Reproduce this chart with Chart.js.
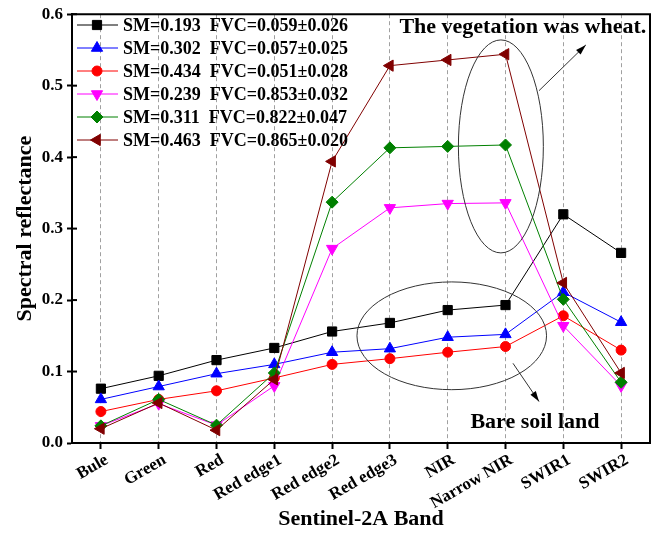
<!DOCTYPE html>
<html>
<head>
<meta charset="utf-8">
<title>Sentinel-2A spectral reflectance</title>
<script src="https://cdn.jsdelivr.net/npm/chart.js@4.4.0/dist/chart.umd.min.js"></script>
<style>
  html, body { margin: 0; padding: 0; background: #fff; }
  #wrap { width: 662px; height: 535px; }
</style>
</head>
<body>
<div id="wrap"><canvas id="chart"></canvas></div>
<script>
// bands on the x axis
var bands = ['Bule', 'Green', 'Red', 'Red edge1', 'Red edge2', 'Red edge3', 'NIR', 'Narrow NIR', 'SWIR1', 'SWIR2'];

// soil moisture and FVC (mean ± sd) of each sample group
var smValues = ['0.193', '0.302', '0.434', '0.239', '0.311', '0.463'];
var fvcMeans = ['0.059', '0.057', '0.051', '0.853', '0.822', '0.865'];
var fvcSds   = ['0.026', '0.025', '0.028', '0.032', '0.047', '0.020'];

// reflectance per band
var refl193 = [0.076, 0.094, 0.116, 0.133, 0.156, 0.168, 0.186, 0.193, 0.320, 0.266];
var refl302 = [0.061, 0.079, 0.097, 0.110, 0.127, 0.132, 0.148, 0.152, 0.211, 0.169];
var refl434 = [0.044, 0.061, 0.073, 0.091, 0.110, 0.118, 0.127, 0.135, 0.178, 0.130];
var refl239 = [0.024, 0.055, 0.025, 0.080, 0.272, 0.329, 0.335, 0.336, 0.164, 0.080];
var refl311 = [0.024, 0.061, 0.025, 0.098, 0.337, 0.413, 0.415, 0.417, 0.201, 0.085];
var refl463 = [0.020, 0.056, 0.018, 0.089, 0.394, 0.528, 0.536, 0.544, 0.224, 0.098];

var yTicks = [0, 0.1, 0.2, 0.3, 0.4, 0.5, 0.6];

var serif = "'Liberation Serif', 'Times New Roman', serif";

function series(i, data, color, style, rot, radius) {
    return {
        label: 'SM=' + smValues[i] + '  FVC=' + fvcMeans[i] + '\u00b1' + fvcSds[i],
        data: data,
        borderColor: color,
        backgroundColor: color,
        borderWidth: 1,
        pointStyle: style,
        rotation: rot,
        pointRadius: radius,
        pointHoverRadius: radius,
        pointBorderWidth: 1,
        tension: 0,
        order: 5 - i
    };
}

var datasets = [
    series(0, refl193, '#000000', 'rect', 0, 6.5),
    series(1, refl302, '#0000ff', 'triangle', 0, 6.5),
    series(2, refl434, '#ff0000', 'circle', 0, 5),
    series(3, refl239, '#ff00ff', 'triangle', 180, 6.5),
    series(4, refl311, '#008000', 'rectRot', 0, 6),
    series(5, refl463, '#800000', 'triangle', 270, 6.5)
];

// frame, inner ticks, legend and the two annotation groups
var decorations = {
    id: 'decorations',
    afterDatasetsDraw: function (chart) {
        var ctx = chart.ctx;
        var area = chart.chartArea;
        var xs = chart.scales.x, ys = chart.scales.y;
        ctx.save();

        // top and right frame
        ctx.strokeStyle = '#000';
        ctx.lineWidth = 2;
        ctx.beginPath();
        ctx.moveTo(area.left, area.top);
        ctx.lineTo(area.right, area.top);
        ctx.lineTo(area.right, area.bottom);
        ctx.stroke();

        // inward y ticks
        yTicks.forEach(function (v) {
            var y = ys.getPixelForValue(v);
            ctx.beginPath();
            ctx.moveTo(area.left, y);
            ctx.lineTo(area.left + 5, y);
            ctx.stroke();
        });

        // legend
        ctx.font = 'bold 18px ' + serif;
        ctx.textBaseline = 'middle';
        ctx.textAlign = 'left';
        chart.data.datasets.forEach(function (ds, i) {
            var y = 25 + 23 * i;
            ctx.strokeStyle = ds.borderColor;
            ctx.fillStyle = ds.backgroundColor;
            ctx.lineWidth = 1;
            ctx.beginPath();
            ctx.moveTo(77, y);
            ctx.lineTo(118, y);
            ctx.stroke();
            Chart.helpers.drawPoint(ctx, {
                pointStyle: ds.pointStyle,
                rotation: ds.rotation,
                radius: ds.pointRadius,
                borderWidth: 1
            }, 97, y);
            ctx.fillStyle = '#000';
            ctx.fillText(ds.label, 123, y + 1);
        });

        // annotation helpers in band-index / reflectance units
        function px(i) { return xs.getPixelForValue(i); }
        function py(v) { return ys.getPixelForValue(v); }
        function ellipse(ci, cv, ri, rv) {
            ctx.beginPath();
            ctx.ellipse(px(ci), py(cv), px(ci + ri) - px(ci), py(cv) - py(cv + rv), 0, 0, Math.PI * 2);
            ctx.stroke();
        }
        function arrow(i1, v1, i2, v2) {
            var x1 = px(i1), y1 = py(v1), x2 = px(i2), y2 = py(v2);
            var a = Math.atan2(y2 - y1, x2 - x1);
            ctx.beginPath();
            ctx.moveTo(x1, y1);
            ctx.lineTo(x2, y2);
            ctx.stroke();
            ctx.beginPath();
            ctx.moveTo(x2, y2);
            ctx.lineTo(x2 - 11 * Math.cos(a - 0.3), y2 - 11 * Math.sin(a - 0.3));
            ctx.lineTo(x2 - 11 * Math.cos(a + 0.3), y2 - 11 * Math.sin(a + 0.3));
            ctx.closePath();
            ctx.fill();
        }

        ctx.strokeStyle = '#333';
        ctx.fillStyle = '#000';
        ctx.lineWidth = 1;
        ellipse(6.92, 0.415, 0.735, 0.149);
        arrow(7.58, 0.493, 8.39, 0.557);
        ellipse(6.07, 0.150, 1.64, 0.0754);
        arrow(7.13, 0.1115, 7.58, 0.058);

        ctx.font = 'bold 22px ' + serif;
        ctx.textAlign = 'center';
        ctx.fillStyle = '#000';
        ctx.fillText('The vegetation was wheat.', px(7.30), py(0.581));
        ctx.fillText('Bare soil land', px(7.51), py(0.0296));

        ctx.restore();
    }
};

new Chart(document.getElementById('chart'), {
    type: 'line',
    data: { labels: bands, datasets: datasets },
    plugins: [decorations],
    options: {
        responsive: true,
        maintainAspectRatio: false,
        animation: false,
        layout: { padding: { top: 11, right: 12, left: 0, bottom: 0 } },
        plugins: { legend: { display: false }, tooltip: { enabled: false } },
        scales: {
            x: {
                type: 'category',
                offset: true,
                afterFit: function (scale) { scale.height = 92; },
                grid: {
                    display: true,
                    drawOnChartArea: true,
                    color: '#a0a0a0',
                    lineWidth: 1,
                    drawTicks: true,
                    tickLength: 6,
                    tickColor: '#000',
                    tickWidth: 2,
                    tickBorderDash: []
                },
                border: { display: true, color: '#000', width: 2, dash: [4, 3] },
                ticks: {
                    color: '#000',
                    minRotation: 30,
                    maxRotation: 30,
                    autoSkip: false,
                    padding: 1,
                    labelOffset: 6,
                    font: { family: serif, size: 17, weight: 'bold' }
                },
                title: {
                    display: true,
                    text: 'Sentinel-2A Band',
                    color: '#000',
                    padding: { top: 0, bottom: 2 },
                    font: { family: serif, size: 22, weight: 'bold', lineHeight: 1.2 }
                }
            },
            y: {
                min: 0,
                max: 0.6,
                afterFit: function (scale) { scale.width = 72; },
                afterBuildTicks: function (scale) {
                    scale.ticks = yTicks.map(function (v) { return { value: v }; });
                },
                grid: {
                    drawOnChartArea: false,
                    drawTicks: true,
                    tickLength: 5,
                    tickColor: '#000',
                    tickWidth: 2
                },
                border: { display: true, color: '#000', width: 2 },
                ticks: {
                    color: '#000',
                    padding: 4,
                    font: { family: serif, size: 17, weight: 'bold' },
                    callback: function (v) { return Number(v).toFixed(1); }
                },
                title: {
                    display: true,
                    text: 'Spectral reflectance',
                    color: '#000',
                    padding: { top: 12, bottom: 0 },
                    font: { family: serif, size: 22, weight: 'bold', lineHeight: 1.2 }
                }
            }
        }
    }
});
</script>
</body>
</html>
